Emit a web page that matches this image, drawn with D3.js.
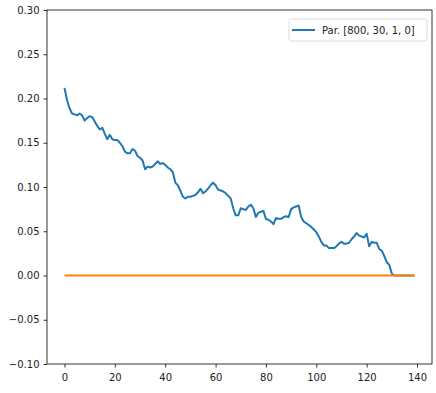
<!DOCTYPE html>
<html>
<head>
<meta charset="utf-8">
<script src="https://cdn.jsdelivr.net/npm/d3@7"></script>
<style>
  body { margin: 0; background: #fff; }
  text { font-family: "DejaVu Sans", sans-serif; }
</style>
</head>
<body>
<div class="canvas"></div>
<script>
// Data
const legendLabel = "Par. [800, 30, 1, 0]";
const xTicks = [0, 20, 40, 60, 80, 100, 120, 140];
const yTicks = [-0.10, -0.05, 0.00, 0.05, 0.10, 0.15, 0.20, 0.25, 0.30];

const blueValues = [
  0.212, 0.198, 0.189, 0.183, 0.182, 0.181, 0.183, 0.181, 0.175, 0.178,
  0.180, 0.179, 0.174, 0.169, 0.165, 0.167, 0.160, 0.154, 0.159, 0.154,
  0.153, 0.153, 0.150, 0.146, 0.140, 0.138, 0.138, 0.143, 0.141, 0.135,
  0.133, 0.130, 0.120, 0.123, 0.122, 0.123, 0.126, 0.129, 0.126, 0.127,
  0.125, 0.122, 0.120, 0.117, 0.105, 0.102, 0.096, 0.089, 0.087, 0.089,
  0.089, 0.090, 0.091, 0.094, 0.098, 0.093, 0.095, 0.098, 0.102, 0.105,
  0.102, 0.097, 0.096, 0.095, 0.093, 0.090, 0.087, 0.076, 0.068, 0.068,
  0.076, 0.075, 0.074, 0.078, 0.080, 0.076, 0.066, 0.071, 0.072, 0.073,
  0.064, 0.063, 0.061, 0.058, 0.065, 0.064, 0.064, 0.066, 0.067, 0.066,
  0.075, 0.077, 0.078, 0.079, 0.066, 0.061, 0.059, 0.057, 0.055, 0.052,
  0.049, 0.044, 0.038, 0.034, 0.034, 0.031, 0.031, 0.031, 0.033, 0.036,
  0.038, 0.036, 0.036, 0.037, 0.041, 0.044, 0.048, 0.045, 0.044, 0.043,
  0.047, 0.033, 0.038, 0.037, 0.037, 0.030, 0.028, 0.022, 0.015, 0.012,
  0.002, 0, 0, 0, 0, 0, 0, 0, 0, 0
];
const orangeValues = blueValues.map(() => 0);

// Dimensions & margins
const margin = { top: 10, right: 4, bottom: 29, left: 47 };
const width = 436 - margin.left - margin.right;
const height = 393 - margin.top - margin.bottom;

const n = blueValues.length;
const pad = (n - 1) * 0.05;

const x = d3.scaleLinear()
    .domain([-pad, n - 1 + pad])
    .range([0, width]);

const y = d3.scaleLinear()
    .domain([-0.1, 0.3])
    .range([height, 0]);

const svg = d3.select(".canvas")
    .append("svg")
        .attr("width", 436)
        .attr("height", 393)
    .append("g")
        .attr("transform", `translate(${margin.left}, ${margin.top})`);

// lines
const line = d3.line()
    .x((d, i) => x(i))
    .y(d => y(d));

svg.append("path")
    .datum(blueValues)
    .attr("fill", "none")
    .attr("stroke", "#1f77b4")
    .attr("stroke-width", 2)
    .attr("stroke-linejoin", "round")
    .attr("d", line);

svg.append("path")
    .datum(orangeValues)
    .attr("fill", "none")
    .attr("stroke", "#ff7f0e")
    .attr("stroke-width", 2)
    .attr("d", line);

// axes
const xAxis = svg.append("g")
    .attr("transform", `translate(0,${height})`)
    .call(d3.axisBottom(x).tickValues(xTicks).tickSize(3.5).tickPadding(6).tickFormat(d3.format("d")));

const yAxis = svg.append("g")
    .call(d3.axisLeft(y).tickValues(yTicks).tickSize(3.5).tickPadding(4).tickFormat(d3.format(".2f")));

[xAxis, yAxis].forEach(a => {
  a.select(".domain").remove();
  a.selectAll("line").attr("stroke", "#000").attr("stroke-width", 0.8);
  a.selectAll("text").attr("fill", "#222").style("font-size", "10px")
    .style("font-family", "'DejaVu Sans', sans-serif");
});

// frame
svg.append("rect")
    .attr("x", 0).attr("y", 0)
    .attr("width", width).attr("height", height)
    .attr("fill", "none")
    .attr("stroke", "#000")
    .attr("stroke-width", 0.8);

// legend
const lg = svg.append("g").attr("transform", `translate(${width - 143}, 9)`);
lg.append("rect")
    .attr("width", 138).attr("height", 22)
    .attr("rx", 2.5)
    .attr("fill", "#fff").attr("fill-opacity", 0.8)
    .attr("stroke", "#d0d0d0").attr("stroke-width", 0.8);
lg.append("line")
    .attr("x1", 3).attr("x2", 26).attr("y1", 11).attr("y2", 11)
    .attr("stroke", "#1f77b4").attr("stroke-width", 2);
lg.append("text")
    .attr("x", 33).attr("y", 15)
    .attr("fill", "#222")
    .style("font-size", "10px")
    .text(legendLabel);
</script>
</body>
</html>
